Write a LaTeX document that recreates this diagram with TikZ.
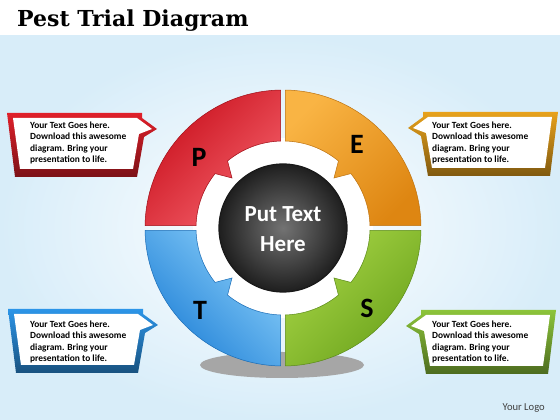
\documentclass[tikz,border=0pt]{standalone}
\usepackage{fontspec}
\usepackage{tikz}
\newfontfamily\carlito{Carlito}
\newfontfamily\slabfont{DejaVu Serif}
\definecolor{pdark}{HTML}{C8101C}
\definecolor{plight}{HTML}{F5606A}
\definecolor{edark}{HTML}{DE8612}
\definecolor{elight}{HTML}{F9B444}
\definecolor{tdark}{HTML}{1E7FD6}
\definecolor{tlight}{HTML}{8ACFFA}
\definecolor{sdark}{HTML}{6BA31C}
\definecolor{slight}{HTML}{A6D445}
\definecolor{bgblue}{HTML}{D8EDF9}
\definecolor{pframe}{HTML}{E0202A}
\definecolor{eframe}{HTML}{E8A21C}
\definecolor{tframe}{HTML}{2C95E8}
\definecolor{sframe}{HTML}{8CC43A}

\begin{document}
\begin{tikzpicture}[x=1pt, y=1pt,
  ringseg/.style={line width=0.5pt},
  letter/.style={font=\carlito\bfseries\fontsize{28}{28}\selectfont},
  hubtext/.style={font=\carlito\bfseries\fontsize{23}{30}\selectfont, text=white, align=center},
  calltext/.style={font=\carlito\bfseries\fontsize{9.4}{11.2}\selectfont, align=left, anchor=north west, inner sep=0pt},
  pics/callout/.style={code={
    \shade[top color=#1, bottom color=#1!55!black]
      (0,0) -- (135,0) -- (135,-5) -- (150,-16) -- (137,-24) -- (130,-64) -- (8,-64) -- cycle;
    \fill[white] (6,-5) -- (130,-5) -- (145,-16) -- (132,-21) -- (126,-56) -- (13,-56) -- cycle;
  }}]
\useasboundingbox (0,0) rectangle (560,420);
\fill[white] (0,0) rectangle (560,420);
\shade[inner color=white, outer color=bgblue] (0,0) rectangle (560,384);

% shadow
\fill[black!35] (282,55) ellipse (82pt and 13pt);

\begin{scope}[shift={(283,192)}]
\fill[white] (0,0) circle (90pt);
% P
\shadedraw[ringseg, draw=pdark!80!black, top color=pdark, bottom color=plight, shading angle=45]
  (91:138pt) arc[start angle=91, end angle=179, radius=138pt] -- (178.4:87pt)
  arc[start angle=178.4, end angle=141.3, radius=87pt] -- (-51,50) -- (129.6:87pt)
  arc[start angle=129.6, end angle=91.6, radius=87pt] -- cycle;
% E
\shadedraw[ringseg, draw=edark!85!black, top color=elight, bottom color=edark, shading angle=45]
  (1:138pt) arc[start angle=1, end angle=89, radius=138pt] -- (88.4:87pt)
  arc[start angle=88.4, end angle=50.4, radius=87pt] -- (51,50) -- (38.7:87pt)
  arc[start angle=38.7, end angle=1.6, radius=87pt] -- cycle;
% T
\shadedraw[ringseg, draw=tdark!85!black, top color=tlight, bottom color=tdark, shading angle=-45]
  (181:138pt) arc[start angle=181, end angle=269, radius=138pt] -- (268.4:87pt)
  arc[start angle=268.4, end angle=230.4, radius=87pt] -- (-51,-50) -- (218.7:87pt)
  arc[start angle=218.7, end angle=181.6, radius=87pt] -- cycle;
% S
\shadedraw[ringseg, draw=sdark!85!black, top color=slight, bottom color=sdark, shading angle=45]
  (271:138pt) arc[start angle=271, end angle=359, radius=138pt] -- (358.4:87pt)
  arc[start angle=358.4, end angle=321.3, radius=87pt] -- (51,-50) -- (309.6:87pt)
  arc[start angle=309.6, end angle=271.6, radius=87pt] -- cycle;

\shade[inner color=black!55, outer color=black!88] (0,0) circle (64pt);
\draw[line width=1.2pt, black!90] (0,0) circle (64pt);
\node[hubtext] (hub) at (0,-1) {Put Text\\Here};

\node[letter] (lp) at (-84,71) {P};
\node[letter] (le) at (74,84) {E};
\node[letter] (lt) at (-83,-82) {T};
\node[letter] (ls) at (84,-80) {S};
\end{scope}

% callouts
\pic at (7,307) {callout=pframe};
\pic[xscale=-1] at (558,308) {callout=eframe};
\pic at (8,111) {callout=tframe};
\pic[xscale=-1] at (556,110) {callout=sframe};

\node[calltext] (tp) at (30,298) {Your Text Goes here.\\Download this awesome\\diagram. Bring your\\presentation to life.};
\node[calltext] (te) at (432,298) {Your Text Goes here.\\Download this awesome\\diagram. Bring your\\presentation to life.};
\node[calltext] (tt) at (30,99) {Your Text Goes here.\\Download this awesome\\diagram. Bring your\\presentation to life.};
\node[calltext] (ts) at (432,99) {Your Text Goes here.\\Download this awesome\\diagram. Bring your\\presentation to life.};

\node[anchor=base west, inner sep=0pt, font=\slabfont\bfseries\fontsize{22}{22}\selectfont] (title) at (17,393) {Pest Trial Diagram};
\node[anchor=base east, inner sep=0pt, text=black!75, font=\carlito\fontsize{10.6}{12}\selectfont] (logo) at (545,9) {Your Logo};
\end{tikzpicture}
\end{document}
